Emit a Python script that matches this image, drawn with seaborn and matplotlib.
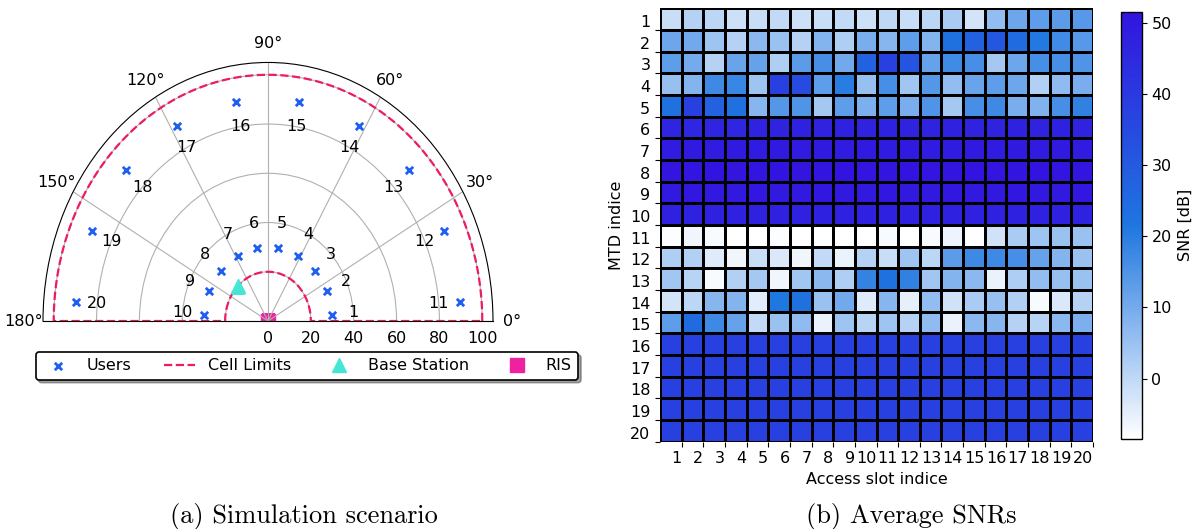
import numpy as np
import pandas as pd
import matplotlib
matplotlib.use("Agg")
import matplotlib.pyplot as plt
from matplotlib.colors import LinearSegmentedColormap
import seaborn as sns

# ---------------- data: simulation scenario ----------------
user_ids = list(range(1, 21))
user_theta_deg = [5.0, 23.9, 42.8, 61.7, 80.6, 99.4, 118.3, 137.2, 156.1, 175.0,
                  5.0, 23.9, 42.8, 61.7, 80.6, 99.4, 118.3, 137.2, 156.1, 175.0]
user_r = [30, 30, 30, 30, 30, 30, 30, 30, 30, 30,
          90, 90, 90, 90, 90, 90, 90, 90, 90, 90]
label_r = [40, 40, 40, 40, 40, 40, 40, 40, 40, 40,
           80, 80, 80, 80, 80, 80, 80, 80, 80, 80]
bs_theta_deg, bs_r = 135, 20
ris_theta_deg, ris_r = 0, 0
cell_r_inner, cell_r_outer = 20, 100
r_max = 105
r_ticks = [0, 20, 40, 60, 80, 100]
theta_ticks = [0, 30, 60, 90, 120, 150, 180]

# ---------------- data: average SNRs (dB) ----------------
slot_labels = [str(i) for i in range(1, 21)]
mtd_labels = [str(i) for i in range(1, 21)]
snr_rows = [
    [-1, 1.5, 0.5, -1.5, -1, -0.5, -1.5, -1, -0.5, -1.5, 0, -1, 0.5, 3, -2.5, 6, 11, 13, 13.5, 14],
    [11, 10.5, 4.5, 1.5, 7, 5, 1.5, 8, 2.5, 9.5, 7.5, 13, 8, 23, 28, 31, 25, 21, 17, 14],
    [13, 10, 1.5, 11.5, 12, 2.5, 13.5, 16, 10.5, 28, 38, 32, 12, 17, 16, 3.5, 11, 16, 16, 15],
    [5.5, 8, 17.5, 18, 4.5, 38, 35, 13, 20, 5.5, 16, 4, 14.5, 6, 11.5, 13, 11, 2, 6.5, 9.5],
    [23, 38, 28, 23, 7.5, 14.5, 15, 3.5, 13, 9, 13, 9.5, 15, 3.5, 16, 17.5, 9.5, 8.5, 16, 19],
    [46.5, 46, 46.5, 46, 47, 47, 47.5, 47, 47.5, 47, 47.5, 47, 47, 47.5, 47, 47, 47.5, 47, 47.5, 47],
    [49, 49.5, 49, 49.5, 49, 49.5, 49, 49.5, 49, 49.5, 49, 49.5, 49, 49, 49.5, 49, 49.5, 49, 49.5, 49],
    [51, 51, 51.5, 51, 51, 51.5, 51, 51, 51.5, 51, 51, 51.5, 51, 51, 51.5, 51, 51, 51.5, 51, 51],
    [50, 50.5, 50, 50, 50.5, 50, 50, 50.5, 50, 50, 50.5, 50, 50, 50.5, 50, 50, 50.5, 50, 50, 50.5],
    [48, 47.5, 48, 48, 47.5, 48, 48, 47.5, 48, 48, 47.5, 48, 48, 47.5, 48, 48, 47.5, 48, 48, 47.5],
    [-8, -6.5, -7.5, -8.5, -8.5, -8, -8.5, -8.5, -8.5, -8.5, -7.5, -8.5, -7.5, -6, -8.5, -2, 3, 4.5, 5, 5],
    [2.5, 2, -4, -6.5, -1, -3.5, -6.5, -0.5, -5.5, 1.5, -1, 4.5, 0.5, 13.5, 17.5, 17.5, 16, 12, 8, 5],
    [4, 1, -7.5, 2, 3.5, -6.5, 4, 7, 2.5, 18.5, 23, 19, 4, 8, 7, -5.5, 2.5, 6, 5.5, 5],
    [-2.5, 0.5, 7.5, 8, -4.5, 21.5, 23, 5, 10.5, -4, 7.5, -5, 6, -2, 3, 5.5, 2, -7.5, -3.5, 1.5],
    [13, 25, 17.5, 12, -0.5, 5, 6.5, -5.5, 4.5, 1, 4.5, 1.5, 6.5, -5.5, 7, 7.5, 1.5, 1, 7, 9],
    [38, 38, 38, 38, 38, 38, 38, 38, 38, 38, 38, 38, 38, 38, 38, 38, 38, 38, 38, 38],
    [38, 38, 38, 38, 38, 38, 38, 38, 38, 38, 38, 38, 38, 38, 38, 38, 38, 38, 38, 38],
    [38, 38, 38, 38, 38, 38, 38, 38, 38, 38, 38, 38, 38, 38, 38, 38, 38, 38, 38, 38],
    [38, 38, 38, 38, 38, 38, 38, 38, 38, 38, 38, 38, 38, 38, 38, 38, 38, 38, 38, 38],
    [38, 38, 38, 38, 38, 38, 38, 38, 38, 38, 38, 38, 38, 38, 38, 38, 38, 38, 38, 38],
]
snr_vmin, snr_vmax = -8.5, 51.6
cbar_ticks = [0, 10, 20, 30, 40, 50]

plt.rcParams["font.family"] = ["DejaVu Sans"]
plt.rcParams["font.size"] = 11

fig = plt.figure(figsize=(11.99, 5.29), dpi=100)

# ---------------- polar scenario ----------------
axp = fig.add_axes([0.03586, 0.1488, 0.3753, 0.9775], projection="polar")
axp.set_thetamin(0)
axp.set_thetamax(180)
axp.set_rlim(0, r_max)
axp.set_aspect("auto")
axp.set_rticks(r_ticks)
axp.set_thetagrids(theta_ticks)
axp.grid(True, color="#b0b0b0", linewidth=0.8)
axp.tick_params(labelsize=11.5)

# cell limits (annular sector)
arc = np.linspace(0, np.pi, 200)
cl_theta = np.concatenate([arc, [np.pi, np.pi], arc[::-1], [0, 0]])
cl_r = np.concatenate([np.full(arc.size, cell_r_outer), [cell_r_outer, cell_r_inner],
                       np.full(arc.size, cell_r_inner), [cell_r_inner, cell_r_outer]])

users = pd.DataFrame({"theta": np.deg2rad(user_theta_deg), "r": user_r})
sns.scatterplot(data=users, x="theta", y="r", ax=axp, marker="x", color="#1f5ff0",
                s=28, linewidth=2, label="Users", zorder=3)
axp.plot(cl_theta, cl_r, linestyle="--", color="#EE1A66", linewidth=1.6,
         label="Cell Limits", zorder=2.5)
axp.plot(np.deg2rad(bs_theta_deg), bs_r, linestyle="none", marker="^", markersize=10,
         color="#45E6D5", label="Base Station", zorder=3)
axp.plot(np.deg2rad(ris_theta_deg), ris_r, linestyle="none", marker="s", markersize=10,
         color="#EE22A0", label="RIS", zorder=1.2)

for uid, th, lr in zip(user_ids, user_theta_deg, label_r):
    axp.text(np.deg2rad(th), lr, str(uid), ha="center", va="center", fontsize=11.5)

axp.set_xlabel("")
axp.set_ylabel("")
leg = axp.legend(loc="center", bbox_to_anchor=(307 / 1199, 1 - 366 / 529),
                 bbox_transform=fig.transFigure, ncol=4, shadow=True, fancybox=True,
                 edgecolor="black", framealpha=1, fontsize=11.5)
leg.get_frame().set_linewidth(1.2)

# ---------------- heatmap ----------------
snr_df = pd.DataFrame(snr_rows, index=mtd_labels, columns=slot_labels)
cmap = LinearSegmentedColormap.from_list("snr", ["#FFFFFF", "#1E76E0", "#3214E0"])

axh = fig.add_axes([0.5505, 0.1650, 0.3611, 0.8193])
cax = fig.add_axes([0.9347, 0.1701, 0.01751, 0.8078])
sns.heatmap(snr_df, ax=axh, cbar_ax=cax, cmap=cmap, vmin=snr_vmin, vmax=snr_vmax,
            linewidths=0.85, linecolor="black", xticklabels=False, yticklabels=False,
            cbar_kws={"label": "SNR [dB]", "ticks": cbar_ticks})
axh.set_xticks(np.arange(1, 21))
axh.set_xticklabels(slot_labels, rotation=0, ha="right")
axh.set_yticks(np.arange(1, 21))
axh.set_yticklabels(mtd_labels, rotation=0, va="bottom")
axh.tick_params(axis="both", length=3.5, width=0.8, labelsize=11.5)
axh.set_xlabel("Access slot indice", fontsize=11.5)
axh.set_ylabel("MTD indice", fontsize=11.5)

cb = axh.collections[0].colorbar
cb.outline.set_visible(True)
cb.outline.set_linewidth(1.0)
cb.outline.set_edgecolor("black")
cb.ax.tick_params(labelsize=11.5, length=3.5)
cb.set_label("SNR [dB]", fontsize=11.5)

# ---------------- captions ----------------
fig.text(304 / 1199, 1 - 517 / 529, "(a) Simulation scenario", family="cmr10",
         fontsize=19, ha="center", va="center")
fig.text(911 / 1199, 1 - 517 / 529, "(b) Average SNRs", family="cmr10",
         fontsize=19, ha="center", va="center")

fig.savefig("out.png", dpi=100)
